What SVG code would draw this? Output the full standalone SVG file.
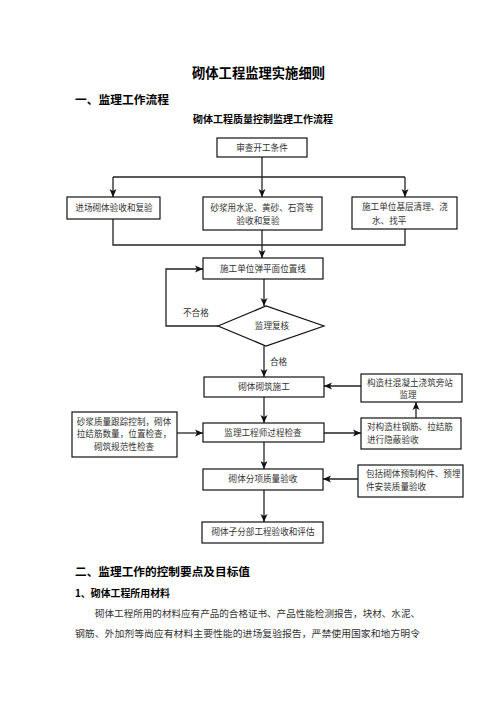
<svg xmlns="http://www.w3.org/2000/svg" width="496" height="702" viewBox="0 0 496 702">
<defs>
<marker id="arr" markerWidth="8" markerHeight="8" refX="8" refY="4" orient="auto" markerUnits="userSpaceOnUse">
<path d="M0,0.5 L8,4 L0,7.5 L2,4 z" fill="#111"/>
</marker>
<style>
.bx{fill:#fff;stroke:#111;stroke-width:1.2}
.ln{fill:none;stroke:#222;stroke-width:1.3}
.t{font-family:"Noto Sans CJK SC","Noto Sans",sans-serif;font-size:8.6px;fill:#333}
.c{text-anchor:middle}
.h{font-family:"Noto Sans CJK SC","Noto Sans",sans-serif;font-weight:bold;fill:#000}
.p{font-family:"Noto Sans CJK SC","Noto Sans",sans-serif;font-size:9.6px;fill:#333}
</style>
</defs>
<rect width="496" height="702" fill="#fff"/>

<text class="h" x="192" y="78" font-size="13.5" textLength="133" lengthAdjust="spacingAndGlyphs">砌体工程监理实施细则</text>
<text class="h" x="75" y="104" font-size="11.5" textLength="94" lengthAdjust="spacingAndGlyphs">一、监理工作流程</text>
<text class="h" x="193" y="123" font-size="9.8" textLength="140" lengthAdjust="spacingAndGlyphs">砌体工程质量控制监理工作流程</text>

<g id="connectors">
<path class="ln" d="M262,157 V177 M113,177 H405"/>
<path class="ln" d="M113,177 V197" marker-end="url(#arr)"/>
<path class="ln" d="M262,177 V197" marker-end="url(#arr)"/>
<path class="ln" d="M405,177 V197" marker-end="url(#arr)"/>
<path class="ln" d="M113,219 V245 H405 V229"/>
<path class="ln" d="M262,230 V258" marker-end="url(#arr)"/>
<path class="ln" d="M264,279 V306" marker-end="url(#arr)"/>
<path class="ln" d="M218,326 H166 V269 H203" marker-end="url(#arr)"/>
<path class="ln" d="M264,346 V377" marker-end="url(#arr)"/>
<path class="ln" d="M361,386 H324" marker-end="url(#arr)"/>
<path class="ln" d="M264,397 V423" marker-end="url(#arr)"/>
<path class="ln" d="M177,433 H203" marker-end="url(#arr)"/>
<path class="ln" d="M324,433 H361" marker-end="url(#arr)"/>
<path class="ln" d="M416,418 V402" marker-end="url(#arr)"/>
<path class="ln" d="M264,442 V469" marker-end="url(#arr)"/>
<path class="ln" d="M358,479 H323" marker-end="url(#arr)"/>
<path class="ln" d="M264,490 V522" marker-end="url(#arr)"/>
<text class="t" x="183" y="316" font-size="7.5">不合格</text>
<text class="t" x="270" y="365" font-size="7.5">合格</text>
</g>

<g id="n1"><rect class="bx" x="217" y="138" width="90" height="19"/><text class="t c" x="262" y="151">审查开工条件</text></g>
<g id="n2"><rect class="bx" x="67" y="197" width="93" height="22"/><text class="t c" x="114" y="211">进场砌体验收和复验</text></g>
<g id="n3"><rect class="bx" x="203" y="197" width="119" height="33"/><text class="t c" x="262" y="211">砂浆用水泥、黄砂、石膏等</text><text class="t c" x="258" y="224">验收和复验</text></g>
<g id="n4"><rect class="bx" x="352" y="197" width="105" height="32"/><text class="t" x="362" y="210">施工单位基层清理、浇</text><text class="t" x="372" y="224">水、找平</text></g>
<g id="n5"><rect class="bx" x="203" y="258" width="120" height="21"/><text class="t c" x="263" y="272">施工单位弹平面位置线</text></g>
<g id="n6"><polygon class="bx" points="218,326 266,306 324,326 266,346"/><text class="t c" x="272" y="329">监理复核</text></g>
<g id="n7"><rect class="bx" x="204" y="377" width="120" height="20"/><text class="t c" x="264" y="390">砌体砌筑施工</text></g>
<g id="n8"><rect class="bx" x="361" y="374" width="101" height="28"/><text class="t" x="367" y="386">构造柱混凝土浇筑旁站</text><text class="t c" x="408" y="398">监理</text></g>
<g id="n9"><rect class="bx" x="72" y="412" width="105" height="45"/><text class="t c" x="124" y="425">砂浆质量跟踪控制，砌体</text><text class="t c" x="124" y="437">拉结筋数量，位置检查，</text><text class="t c" x="124" y="450">砌筑规范性检查</text></g>
<g id="n10"><rect class="bx" x="203" y="423" width="121" height="19"/><text class="t c" x="263" y="436">监理工程师过程检查</text></g>
<g id="n11"><rect class="bx" x="361" y="418" width="100" height="31"/><text class="t" x="367" y="430">对构造柱钢筋、拉结筋</text><text class="t" x="367" y="443">进行隐蔽验收</text></g>
<g id="n12"><rect class="bx" x="203" y="469" width="120" height="21"/><text class="t c" x="263" y="482">砌体分项质量验收</text></g>
<g id="n13"><rect class="bx" x="358" y="465" width="105" height="32"/><text class="t" x="366" y="477">包括砌体预制构件、预埋</text><text class="t" x="366" y="490">件安装质量验收</text></g>
<g id="n14"><rect class="bx" x="202" y="522" width="121" height="21"/><text class="t c" x="263" y="535">砌体子分部工程验收和评估</text></g>

<text class="h" x="75" y="576" font-size="11.5" textLength="175" lengthAdjust="spacingAndGlyphs">二、监理工作的控制要点及目标值</text>
<text class="h" x="75" y="597" font-size="9.8" textLength="95" lengthAdjust="spacingAndGlyphs">1、砌体工程所用材料</text>
<text class="p" x="95" y="617" textLength="325" lengthAdjust="spacingAndGlyphs">砌体工程所用的材料应有产品的合格证书、产品性能检测报告，块材、水泥、</text>
<text class="p" x="75" y="637" textLength="345" lengthAdjust="spacingAndGlyphs">钢筋、外加剂等尚应有材料主要性能的进场复验报告，严禁使用国家和地方明令</text>
</svg>
